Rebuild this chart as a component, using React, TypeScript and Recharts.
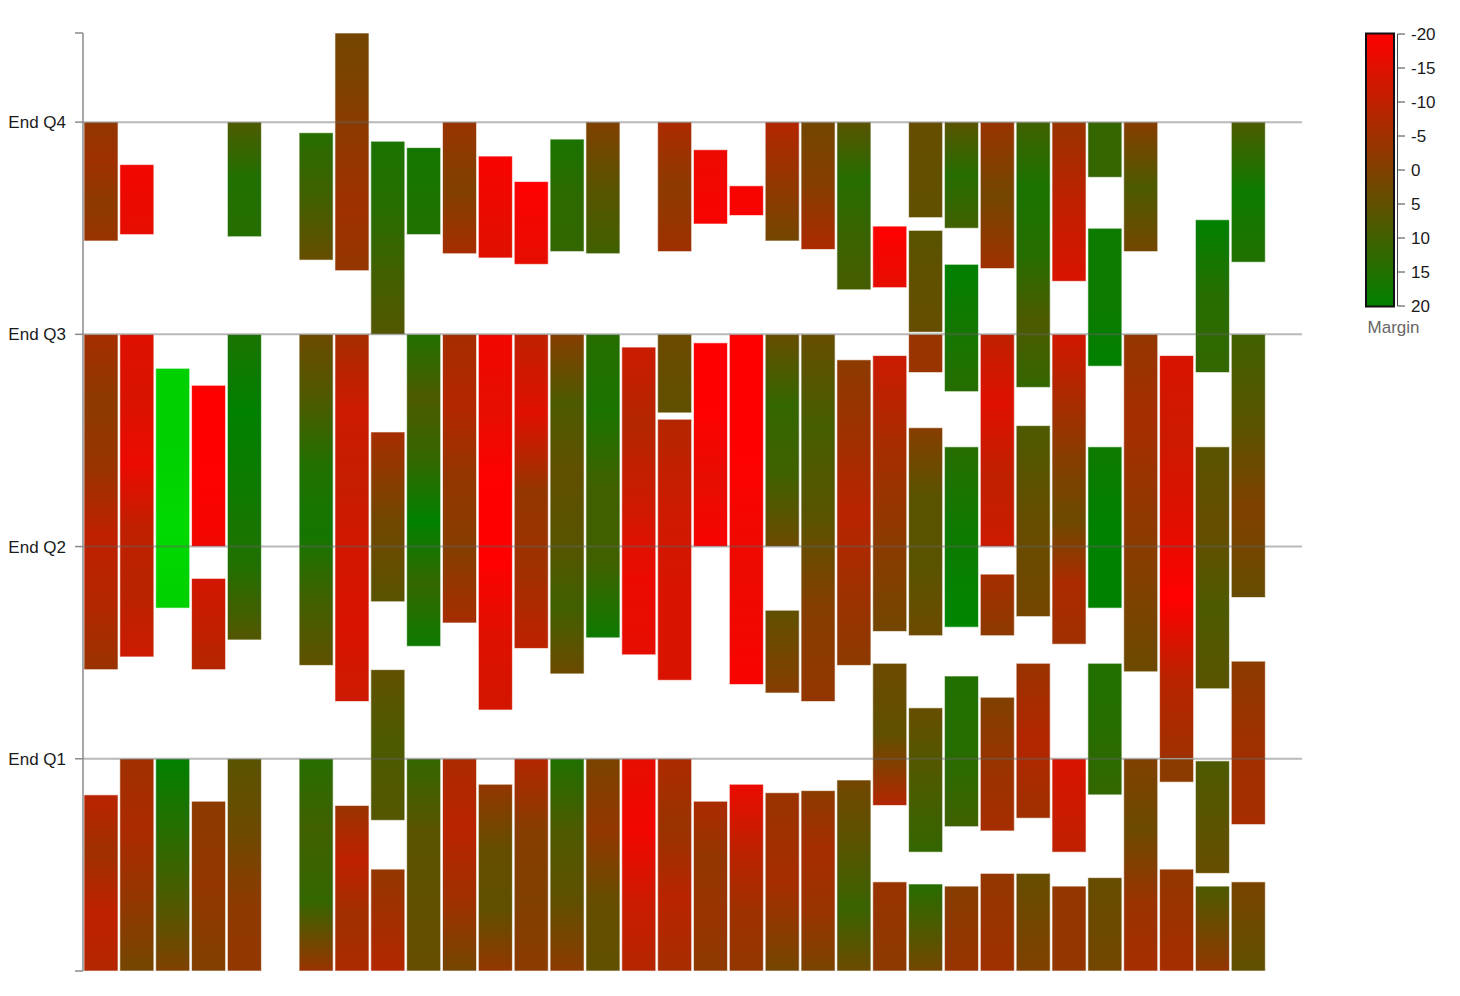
import { Bar, BarChart, ReferenceLine, XAxis, YAxis } from "recharts";

// one entry per column; the chart has no visible category labels
const columns = [
  "1", "2", "3", "4", "5", "6", "7", "8", "9", "10", "11", "12",
  "13", "14", "15", "16", "17", "18", "19", "20", "21", "22", "23", "24",
  "25", "26", "27", "28", "29", "30", "31", "32", "33", "34"
];

// vertical extent of each block, in quarter units (100 = End Q1 ... 400 = End Q4)
const blockSpans: [number, number][][] = [
  [[344, 400], [142, 300], [0, 83]],
  [[347, 380], [148, 300], [0, 100]],
  [[171, 284], [0, 100]],
  [[200, 276], [142, 185], [0, 80]],
  [[346, 400], [156, 300], [0, 100]],
  [],
  [[335, 395], [144, 300], [0, 100]],
  [[330, 442], [127, 300], [0, 78]],
  [[300, 391], [174, 254], [71, 142], [0, 48]],
  [[347, 388], [153, 300], [0, 100]],
  [[338, 400], [164, 300], [0, 100]],
  [[336, 384], [123, 300], [0, 88]],
  [[333, 372], [152, 300], [0, 100]],
  [[339, 392], [140, 300], [0, 100]],
  [[338, 400], [157, 300], [0, 100]],
  [[149, 294], [0, 100]],
  [[339, 400], [263, 300], [137, 260], [0, 100]],
  [[352, 387], [200, 296], [0, 80]],
  [[356, 370], [135, 300], [0, 88]],
  [[344, 400], [200, 300], [131, 170], [0, 84]],
  [[340, 400], [127, 300], [0, 85]],
  [[321, 400], [144, 288], [0, 90]],
  [[322, 351], [160, 290], [78, 145], [0, 42]],
  [[355, 400], [301, 349], [282, 300], [158, 256], [56, 124], [0, 41]],
  [[350, 400], [273, 333], [162, 247], [68, 139], [0, 40]],
  [[331, 400], [200, 300], [158, 187], [66, 129], [0, 46]],
  [[275, 400], [167, 257], [72, 145], [0, 46]],
  [[325, 400], [154, 300], [56, 100], [0, 40]],
  [[374, 400], [285, 350], [171, 247], [83, 145], [0, 44]],
  [[339, 400], [141, 300], [0, 100]],
  [[100, 290], [89, 100], [0, 48]],
  [[282, 354], [133, 247], [46, 99], [0, 40]],
  [[334, 400], [176, 300], [69, 146], [0, 42]],
  []
];

// margin readings down each block (top to bottom)
const blockMargins: number[][][] = [
  [[-3, -5, -2, -4], [-6, -2, -4, -10, -8, -4], [-9, -5, -10, -8]],
  [[-18, -16], [-15, -14, -17, -10, -9, -12], [-5, -7, -3, 2]],
  [[45, 45, 48, 45], [20, 14, 8, 0]],
  [[-20, -20, -18], [-13, -8], [-2, -3, 0]],
  [[8, 15, 14], [16, 20, 18, 15, 7], [6, 3, -2, -3]],
  [],
  [[14, 10, 4], [3, 8, 15, 17, 10, 5], [14, 10, 12, -4]],
  [[2, 0, -3, -5, -3], [-6, -12, -11, -13, -14, -12], [-4, -10, -5, -7]],
  [[16, 14, 10, 7], [-6, 2, 6], [5, 8, 7], [-3, -8]],
  [[17, 15], [15, 8, 12, 20, 12, 18], [12, 6, 5, 4]],
  [[-4, 0, -6], [-6, -8, -3, -1, -6], [-7, -9, -5, 2]],
  [[-19, -15], [-18, -16, -20, -20, -15, -13], [-3, 4, 5, -3]],
  [[-20, -16], [-10, -15, -3, -5, -10], [-8, -1, 0, -2]],
  [[16, 13, 12], [-1, 8, 5, 6, 10, 3], [15, 8, 5, -2]],
  [[0, 6, 10], [14, 16, 10, 10, 18], [1, -3, 4, 5]],
  [[-12, -8, -12, -17, -16], [-16, -18, -12, -8]],
  [[-7, -2, -5], [3, 5], [-8, -12, -14, -14], [-7, -4, -9, -6]],
  [[-17, -19], [-20, -20, -16, -19], [-7, -3, -4, -2]],
  [[-19], [-20, -20, -17, -19], [-17, -10, -5, -3]],
  [[-8, -3, 2], [4, 12, 10, 3], [5, -1], [-4, -6, 2]],
  [[2, -1, -7], [4, 9, 6, -1, -3], [-2, -6, -4, 1]],
  [[6, 14, 11, 9], [-2, -5, -9, -5, -2], [2, 6, 11, 3]],
  [[-20, -16], [-12, -6, -2, 2], [3, 5, -8], [-4, -2]],
  [[4, 5], [6, 4], [-4], [-1, 6, 6, 3], [4, 8, 12], [14, 2]],
  [[6, 14, 10], [20, 14], [14, 18, 22], [15, 14, 10], [-1, -4]],
  [[-4, 2, -5], [-10, -15, -10, -12], [-6, -2], [0, -4, -6], [-3, -5]],
  [[10, 16, 14, 8, 12], [8, 4, 2], [-4, -8, -5], [4, 0]],
  [[-4, -10, -14], [-13, -7, -1, 3, -7, -5], [-14, -10], [-3, -3]],
  [[12], [18, 18, 20], [18, 20, 20], [15, 14, 12], [4, 2]],
  [[-1, 8, 2], [-3, -6, -3, 0, 3], [0, 3, -4, -6]],
  [[-14, -12, -15, -20, -9, -5], [-2], [-3, -6]],
  [[20, 14, 12], [6, 4, 8, 6], [8, 4], [8, -3]],
  [[8, 18, 15], [10, 6, 0, 4], [-2, -5, -6], [1, 5]],
  []
];

const quarterTicks = [0, 100, 200, 300, 400, 442];
const quarterLabels: Record<number, string> = {
  100: "End Q1",
  200: "End Q2",
  300: "End Q3",
  400: "End Q4"
};
const quarterLines = [100, 200, 300, 400];
const marginTicks = [-20, -15, -10, -5, 0, 5, 10, 15, 20];

const MAX_BLOCKS = 6;
const blockSlots = [0, 1, 2, 3, 4, 5];

const chartData = columns.map((name, i) => {
  const row: Record<string, unknown> = { name };
  for (let k = 0; k < MAX_BLOCKS; k++) {
    row[`s${k}`] = blockSpans[i][k] ?? null;
    row[`m${k}`] = blockMargins[i][k] ?? null;
  }
  return row;
});

const clamp = (v: number) => Math.max(0, Math.min(255, Math.round(v)));

// -20 -> red, 0 -> brown, 20 -> green (extrapolated beyond, clamped per channel)
function marginColor(m: number) {
  const r = clamp(127.5 - 6.375 * m);
  const g = clamp(64 + 3.2 * m);
  return `rgb(${r},${g},0)`;
}

const font = "'Liberation Sans', Arial, sans-serif";

function StripedBlock(props: any) {
  const { x, y, width, height, payload, index, slot } = props;
  const margins: number[] | null = payload ? payload[`m${slot}`] : null;
  if (!margins || !Number.isFinite(y) || !Number.isFinite(height)) return null;
  const top = height < 0 ? y + height : y;
  const h = Math.abs(height);
  const id = `blk-${slot}-${index}`;
  return (
    <g>
      <defs>
        <linearGradient id={id} x1="0" y1="0" x2="0" y2="1">
          {margins.map((m, i) => (
            <stop
              key={i}
              offset={margins.length === 1 ? 0.5 : i / (margins.length - 1)}
              stopColor={marginColor(m)}
            />
          ))}
        </linearGradient>
      </defs>
      <rect
        x={x}
        y={top}
        width={width}
        height={h}
        fill={`url(#${id})`}
        stroke="rgba(255,255,255,0.6)"
        strokeWidth={1}
      />
    </g>
  );
}

function MarginLegend() {
  const top = 34;
  const span = 272;
  const pos = (t: number) => top + ((t + 20) / 40) * span;
  return (
    <svg
      width={120}
      height={350}
      style={{ position: "absolute", left: 1340, top: 0 }}
    >
      <defs>
        <linearGradient id="marginScale" x1="0" y1="0" x2="0" y2="1">
          <stop offset="0" stopColor={marginColor(-20)} />
          <stop offset="0.5" stopColor={marginColor(0)} />
          <stop offset="1" stopColor={marginColor(20)} />
        </linearGradient>
      </defs>
      <rect
        x={26}
        y={top - 0.5}
        width={28}
        height={span + 1}
        fill="url(#marginScale)"
        stroke="#111"
        strokeWidth={2}
      />
      <line x1={57.5} x2={57.5} y1={pos(-20)} y2={pos(20)} stroke="#444" strokeWidth={1} />
      {marginTicks.map((t) => (
        <g key={t}>
          <line x1={57.5} x2={65} y1={pos(t)} y2={pos(t)} stroke="#444" strokeWidth={1} />
          <text
            x={71}
            y={pos(t)}
            dy="0.35em"
            fontSize={17}
            fontFamily={font}
            fill="#1a1a1a"
          >
            {t}
          </text>
        </g>
      ))}
      <text
        x={53.5}
        y={327}
        dy="0.35em"
        textAnchor="middle"
        fontSize={17}
        fontFamily={font}
        fill="#666"
      >
        Margin
      </text>
    </svg>
  );
}

export default function App() {
  return (
    <div
      style={{
        position: "absolute",
        left: 0,
        top: 0,
        width: 1460,
        height: 996,
        background: "#ffffff"
      }}
    >
      <BarChart
        width={1460}
        height={996}
        data={chartData}
        margin={{ top: 33, right: 158, bottom: 25, left: 0 }}
      >
        {blockSlots.map((k) => (
          <XAxis key={`x${k}`} xAxisId={k} dataKey="name" hide />
        ))}
        <YAxis
          type="number"
          domain={[0, 442]}
          ticks={quarterTicks}
          interval={0}
          width={83}
          tickSize={8}
          tickMargin={9}
          tickFormatter={(v: number) => quarterLabels[v] ?? ""}
          tick={{ fill: "#1a1a1a", fontSize: 17, fontFamily: font }}
          axisLine={{ stroke: "#8a8a8a", strokeWidth: 1.5 }}
          tickLine={{ stroke: "#8a8a8a", strokeWidth: 1.5 }}
        />
        {blockSlots.map((k) => (
          <Bar
            key={`b${k}`}
            xAxisId={k}
            dataKey={`s${k}`}
            barSize={34}
            isAnimationActive={false}
            shape={(p: any) => <StripedBlock {...p} slot={k} />}
          />
        ))}
        {quarterLines.map((v) => (
          <ReferenceLine
            key={v}
            y={v}
            xAxisId={0}
            stroke="rgba(100,100,100,0.45)"
            strokeWidth={2}
          />
        ))}
      </BarChart>
      <MarginLegend />
    </div>
  );
}
